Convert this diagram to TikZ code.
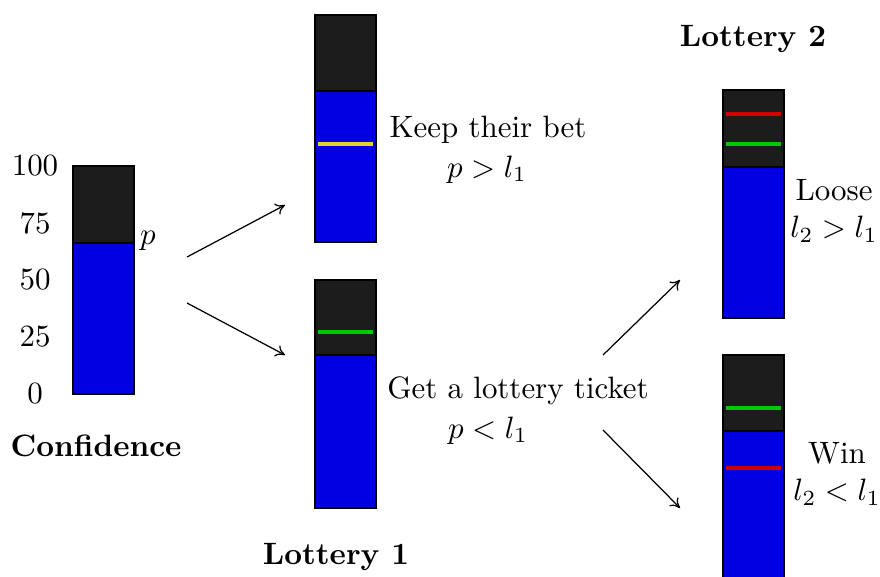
\documentclass[tikz,border=0pt]{standalone}
\usetikzlibrary{arrows.meta}
\definecolor{barblack}{HTML}{1C1C1C}
\definecolor{barblue}{HTML}{0000E0}
\definecolor{mkred}{HTML}{CC0000}
\definecolor{mkgreen}{HTML}{00C800}
\definecolor{mkyellow}{HTML}{E8D030}
\tikzset{
  barframe/.style={draw=black, line width=0.95pt},
  marker/.style={line width=1.6pt},
  lbl/.style={inner sep=0pt, align=center},
  bl/.style={inner sep=0pt, anchor=base},
  ttl/.style={inner sep=0pt, font=\bfseries},
  conn/.style={-{To[length=3pt,width=4pt]}, line width=0.4pt}
}
% #1 left x, #2 top y, #3 split y, #4 bottom y
\newcommand{\lotbar}[4]{%
  \fill[barblack] (#1,#2) rectangle ({#1+61},#3);
  \fill[barblue] (#1,#3) rectangle ({#1+61},#4);
  \draw[barframe] (#1,#2) rectangle ({#1+61},#4);
  \draw[barframe] (#1,#3) -- ({#1+61},#3);
}
\newcommand{\lotmark}[3]{\draw[marker,#3] ({#1+3},#2) -- ({#1+58},#2);}
\begin{document}
\begin{tikzpicture}[x=0.011364cm,y=-0.011364cm]
\useasboundingbox (0,0) rectangle (880,576);
\clip (0,0) rectangle (880,576);
% confidence bar
\lotbar{73}{166}{243}{394}
\node[lbl] (t100) at (35,166) {100};
\node[lbl] (t75) at (35,223) {75};
\node[lbl] (t50) at (35,280) {50};
\node[lbl] (t25) at (35,337) {25};
\node[lbl] (t0) at (35,394) {0};
\node[lbl] (p) at (148,241) {$p$};
\node[ttl] (conf) at (96,446) {Confidence};
% keep bar
\lotbar{315}{15}{91}{242}
\lotmark{315}{144}{mkyellow}
\node[bl] (keep) at (488,137) {Keep their bet};
\node[bl] (keepm) at (487,177) {$p>l_1$};
% lottery 1 bar
\lotbar{315}{280}{355}{508}
\lotmark{315}{332}{mkgreen}
\node[bl] (get) at (518,398) {Get a lottery ticket};
\node[bl] (getm) at (488,438) {$p<l_1$};
\node[ttl] (lot1) at (336,557) {Lottery 1};
% lottery 2 loose
\lotbar{723}{90}{167}{318}
\lotmark{723}{114}{mkred}
\lotmark{723}{144}{mkgreen}
\node[lbl] (loose) at (834,211) {Loose\\$l_2>l_1$};
\node[ttl] (lot2) at (753,39) {Lottery 2};
% lottery 2 win
\lotbar{723}{355}{431}{583}
\lotmark{723}{408}{mkgreen}
\lotmark{723}{468}{mkred}
\node[lbl] (win) at (837,474) {Win\\$l_2<l_1$};
% connectors
\coordinate (c1) at (187,257);
\coordinate (c2) at (285,205);
\coordinate (c3) at (187,303);
\coordinate (c4) at (285,355);
\coordinate (c5) at (603,355);
\coordinate (c6) at (680,280);
\coordinate (c7) at (603,430);
\coordinate (c8) at (680,508);
\draw[conn] (c1) -- (c2);
\draw[conn] (c3) -- (c4);
\draw[conn] (c5) -- (c6);
\draw[conn] (c7) -- (c8);
\end{tikzpicture}
\end{document}
